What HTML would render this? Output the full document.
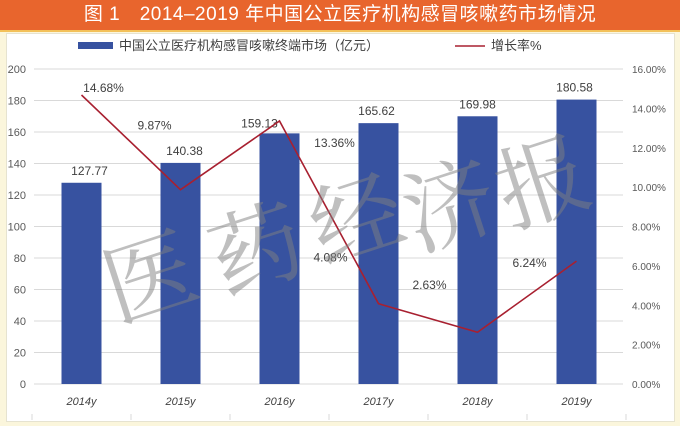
<!DOCTYPE html>
<html><head><meta charset="utf-8"><style>
body{margin:0;width:680px;height:426px;background:#fbf6dc;overflow:hidden;font-family:"Liberation Sans","Noto Sans CJK SC",sans-serif}
#title{position:absolute;left:0;top:0;width:680px;height:30px;background:#e8652d;border-bottom:2px solid #f3c15a;color:#fff;font-size:19px;line-height:30px;text-align:center;letter-spacing:0.5px}
#panel{position:absolute;left:6px;top:33px;width:667px;height:387px;background:#fff;border:1px solid #e6e3d0}
</style></head><body>
<div id="title">图 1　2014–2019 年中国公立医疗机构感冒咳嗽药市场情况</div>
<div id="panel"></div>
<svg id="chart" width="680" height="426" style="position:absolute;left:0;top:0"></svg>
<script>
const categories=["2014y","2015y","2016y","2017y","2018y","2019y"];
const marketValues=[127.77,140.38,159.13,165.62,169.98,180.58];
const growthRates=[14.68,9.87,13.36,4.08,2.63,6.24];
const leftTicks=[0,20,40,60,80,100,120,140,160,180,200];
const rightTicks=[0,2,4,6,8,10,12,14,16];
const NS="http://www.w3.org/2000/svg";
const svg=document.getElementById('chart');
const plotL=32,plotR=626,y0=384,yTop=69;
const yL=v=>y0-(v/200)*(y0-yTop);
const yR=v=>y0-(v/16)*(y0-yTop);
const band=(plotR-plotL)/categories.length;
const xC=i=>plotL+band*(i+0.5);
function mk(tag,attrs,txt){const e=document.createElementNS(NS,tag);for(const k in attrs)e.setAttribute(k,attrs[k]);if(txt!==undefined)e.textContent=txt;svg.appendChild(e);return e;}
leftTicks.forEach(t=>{
 const g=mk('line',{x1:plotL+2,x2:plotR-3,y1:yL(t),y2:yL(t),stroke:'#d9d9d9','stroke-width':1});
 
 
 const l=mk('text',{x:26,y:yL(t)+4,'text-anchor':'end','font-size':11,fill:'#595959'},t);
 
 
});
rightTicks.forEach(t=>{
 const l=mk('text',{x:632,y:yR(t)+4,'font-size':10,fill:'#595959'},t.toFixed(2)+'%');
 
 
});
for(let i=0;i<=categories.length;i++){
 const s=mk('line',{x1:plotL+band*i,x2:plotL+band*i,y1:414,y2:420,stroke:'#d9d9d9'});
 
 
}
const barLabelOff=[[8,-8],[4,-8],[-20,-6],[-2,-8],[0,-8],[-2,-8]];
marketValues.forEach((v,i)=>{
 const b=mk('rect',{x:xC(i)-20,y:yL(v),width:40,height:y0-yL(v),fill:'#3752a0'});
 
 
 const l=mk('text',{x:xC(i)+barLabelOff[i][0],y:yL(v)+barLabelOff[i][1],'text-anchor':'middle','font-size':12,fill:'#404040'},v.toFixed(2));
 
 
 const c=mk('text',{x:xC(i),y:405,'text-anchor':'middle','font-size':11,'font-style':'italic',fill:'#404040'},categories[i]);
 
 
});
const pts=growthRates.map((v,i)=>xC(i)+','+yR(v)).join(' ');
const pl=mk('polyline',{points:pts,fill:'none',stroke:'#a82030','stroke-width':1.6});


const rateOff=[[22,-3],[-26,-60],[55,26],[-48,-42],[-48,-43],[-47,6]];
growthRates.forEach((v,i)=>{
 const l=mk('text',{x:xC(i)+rateOff[i][0],y:yR(v)+rateOff[i][1],'text-anchor':'middle','font-size':12,fill:'#404040'},v.toFixed(2)+'%');
 
 
});
const wm=[["医",150,278],["药",257,250],["经",357,220],["济",450,206],["报",543,183]];
wm.forEach(w=>{
 const t=mk('text',{x:w[1],y:w[2]+32,'text-anchor':'middle','font-size':92,fill:'#808080','fill-opacity':0.5,'font-family':'"Noto Serif CJK SC",serif',transform:`rotate(-18 ${w[1]} ${w[2]})`},w[0]);
 
 
});
const ls=mk('rect',{x:78,y:42,width:35,height:7,fill:'#3752a0'});


const lt=mk('text',{x:119,y:50,'font-size':13,fill:'#404040'},'中国公立医疗机构感冒咳嗽终端市场（亿元）');


const ll=mk('line',{x1:455,x2:485,y1:46,y2:46,stroke:'#a82030','stroke-width':1.6});


const lt2=mk('text',{x:491,y:50,'font-size':13,fill:'#404040'},'增长率%');


</script>
</body></html>
